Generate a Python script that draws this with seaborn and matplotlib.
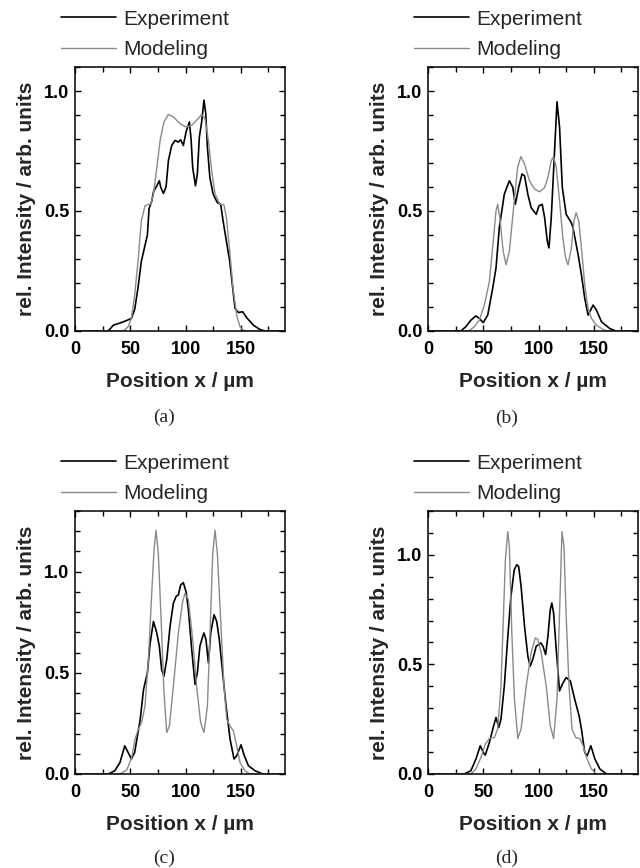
import numpy as np
import pandas as pd
import matplotlib
matplotlib.use("Agg")
import matplotlib.pyplot as plt
import seaborn as sns
from matplotlib.ticker import MultipleLocator

# ---- data (x in um, relative intensity) ----
a_exp_x = [0, 30, 34.7, 43.7, 51, 54, 57, 60, 63, 65.5, 67, 69.4, 71, 74, 76.3, 77.5, 80, 82.4, 84.5,
           87.5, 90.5, 93.5, 95.6, 98, 100.5, 103.5, 105, 106.5, 109, 110.7, 112.5, 114.6, 116.7, 118.3,
           119.8, 122, 125, 128.8, 131.8, 134, 137, 140, 142.7, 144.8, 147.8, 151.7, 155.4, 161.4, 167.4, 172, 190]
a_exp_y = [0, 0, 0.024, 0.038, 0.052, 0.09, 0.18, 0.29, 0.35, 0.40, 0.51, 0.54, 0.58, 0.605, 0.626, 0.60,
           0.573, 0.60, 0.71, 0.773, 0.794, 0.787, 0.797, 0.773, 0.83, 0.871, 0.80, 0.68, 0.605, 0.654, 0.808,
           0.871, 0.962, 0.906, 0.766, 0.64, 0.57, 0.535, 0.528, 0.458, 0.374, 0.29, 0.178, 0.094, 0.077, 0.08,
           0.055, 0.024, 0.006, 0, 0]
a_mod_x = [0, 43.7, 48, 51, 54, 57, 60, 63.3, 66.4, 68.5, 71, 74, 77, 80.5, 84.5, 89, 95, 100.5, 105.6, 110,
           114.6, 117.6, 120.7, 123.7, 126.7, 131.2, 134.8, 137, 140, 143, 146.3, 149.3, 152.3, 156, 190]
a_mod_y = [0, 0, 0.017, 0.052, 0.15, 0.29, 0.458, 0.521, 0.528, 0.528, 0.57, 0.68, 0.794, 0.871, 0.902,
           0.892, 0.864, 0.85, 0.857, 0.878, 0.902, 0.885, 0.794, 0.668, 0.57, 0.528, 0.525, 0.472, 0.332,
           0.178, 0.066, 0.017, 0.003, 0, 0]

b_exp_x = [0, 29.7, 34, 38.8, 43.3, 46.4, 50, 54, 58.5, 61.5, 64.5, 69, 73.6, 76.7, 79, 82, 85, 87.3, 90.3,
           93.3, 97.9, 100.3, 103.3, 105.5, 107.9, 109.4, 111.5, 114.5, 116.7, 119, 121.5, 125, 129.7, 131.2,
           135.8, 138.8, 141.8, 144.8, 149.4, 152.4, 157, 164.5, 170, 190]
b_exp_y = [0, 0, 0.017, 0.045, 0.063, 0.052, 0.035, 0.066, 0.178, 0.262, 0.43, 0.57, 0.626, 0.598, 0.528,
           0.598, 0.654, 0.647, 0.57, 0.514, 0.486, 0.521, 0.528, 0.472, 0.374, 0.346, 0.472, 0.752, 0.955,
           0.85, 0.598, 0.486, 0.451, 0.43, 0.318, 0.234, 0.136, 0.066, 0.108, 0.087, 0.038, 0.01, 0, 0]
b_mod_x = [0, 37, 41.8, 46.4, 51, 55.5, 59, 61.5, 63, 65, 68, 70.6, 73.6, 78, 81, 84, 87.3, 91.8, 96.4, 101,
           105.5, 108.5, 111.5, 113.6, 116, 119, 122, 124.5, 126.7, 129.7, 132, 134, 136.4, 138.8, 141.8,
           144.8, 147.9, 152.4, 158.5, 162, 190]
b_mod_y = [0, 0, 0.017, 0.045, 0.108, 0.206, 0.374, 0.5, 0.528, 0.472, 0.332, 0.276, 0.332, 0.542, 0.68,
           0.727, 0.696, 0.626, 0.591, 0.58, 0.598, 0.64, 0.71, 0.727, 0.682, 0.542, 0.388, 0.304, 0.276,
           0.346, 0.458, 0.493, 0.458, 0.346, 0.192, 0.094, 0.052, 0.024, 0.006, 0, 0]

c_exp_x = [0, 30, 36, 40.7, 45, 48, 51, 54, 59, 62, 65.5, 68, 71, 74, 76.3, 78.4, 80.5, 83, 86, 89, 91.4,
           93.5, 95.6, 98, 100.5, 102.6, 105.6, 108.6, 110.7, 113, 115.5, 116.7, 118.5, 120.7, 122.8, 125.8,
           128.2, 130.6, 133.6, 136.7, 140.3, 143.9, 146.3, 150.2, 153.2, 156.9, 162.9, 170, 190]
c_exp_y = [0, 0, 0.016, 0.057, 0.139, 0.107, 0.074, 0.107, 0.27, 0.418, 0.5, 0.648, 0.754, 0.697, 0.631,
           0.516, 0.484, 0.566, 0.73, 0.844, 0.877, 0.885, 0.934, 0.946, 0.9, 0.811, 0.615, 0.443, 0.5,
           0.631, 0.68, 0.697, 0.664, 0.549, 0.697, 0.787, 0.754, 0.664, 0.5, 0.336, 0.172, 0.074, 0.09,
           0.144, 0.09, 0.041, 0.016, 0, 0]
c_mod_x = [0, 40.7, 46.8, 51.3, 54.3, 57.3, 60.3, 63.3, 66.4, 69.4, 71.5, 73.3, 75.4, 78.4, 80.5, 83, 85.4,
           89, 93.5, 97.4, 99.5, 102.6, 106.5, 110, 113.7, 116.7, 119.8, 122.2, 124.6, 126.7, 128.8, 131.8,
           134.8, 137.3, 140.3, 143.3, 146.3, 149.3, 153.8, 158, 190]
c_mod_y = [0, 0, 0.02, 0.082, 0.172, 0.221, 0.254, 0.336, 0.566, 0.893, 1.107, 1.205, 1.09, 0.697, 0.402,
           0.205, 0.238, 0.434, 0.697, 0.852, 0.893, 0.861, 0.664, 0.434, 0.254, 0.205, 0.336, 0.697, 1.09,
           1.205, 1.09, 0.762, 0.434, 0.27, 0.238, 0.213, 0.139, 0.057, 0.016, 0, 0]

d_exp_x = [0, 32.7, 38.8, 43.3, 47.3, 50, 51.8, 55.5, 59.4, 61.5, 64, 66, 69, 72, 75, 78, 80.3, 82, 84.2,
           87.3, 90.3, 92.4, 94.8, 97.9, 100.3, 102, 104, 106.4, 108.5, 110.6, 112, 113.6, 116, 119, 121.5,
           125, 128.8, 132.7, 136.7, 138.8, 141.8, 144, 147.3, 151, 155.5, 161.5, 190]
d_exp_y = [0, 0, 0.015, 0.068, 0.129, 0.098, 0.086, 0.144, 0.22, 0.258, 0.212, 0.25, 0.4, 0.614, 0.81,
           0.932, 0.955, 0.947, 0.856, 0.674, 0.538, 0.492, 0.523, 0.583, 0.591, 0.598, 0.583, 0.545, 0.629,
           0.75, 0.78, 0.735, 0.568, 0.379, 0.41, 0.44, 0.424, 0.341, 0.265, 0.205, 0.098, 0.083, 0.129,
           0.068, 0.023, 0, 0]
d_mod_x = [0, 38.8, 43.3, 47.9, 51.8, 55.5, 60, 63, 66, 68.2, 70, 72.1, 73.6, 75.8, 78.2, 81.2, 84.2, 88.8,
           93.3, 97, 99.4, 102.4, 107, 110.6, 113.6, 116.7, 119, 121.2, 123, 125, 127.6, 130.3, 133.6, 137.3,
           140.3, 143.3, 147.9, 152.4, 190]
d_mod_y = [0, 0, 0.023, 0.076, 0.136, 0.162, 0.167, 0.205, 0.4, 0.72, 0.977, 1.106, 1.038, 0.644, 0.341,
           0.162, 0.205, 0.4, 0.553, 0.621, 0.614, 0.553, 0.4, 0.22, 0.162, 0.341, 0.735, 1.106, 1.038, 0.72,
           0.4, 0.205, 0.167, 0.162, 0.129, 0.076, 0.023, 0, 0]

panel_names = ["(a)", "(b)", "(c)", "(d)"]
y_max = [1.1, 1.1, 1.3, 1.2]

sns.set_style("ticks")
plt.rcParams["font.family"] = ["Liberation Sans", "DejaVu Sans"]


def panel_frame(ex, ey, mx, my):
    df_e = pd.DataFrame({"x": ex, "y": ey, "series": "Experiment"})
    df_m = pd.DataFrame({"x": mx, "y": my, "series": "Modeling"})
    return pd.concat([df_e, df_m], ignore_index=True)


frames = [
    panel_frame(a_exp_x, a_exp_y, a_mod_x, a_mod_y),
    panel_frame(b_exp_x, b_exp_y, b_mod_x, b_mod_y),
    panel_frame(c_exp_x, c_exp_y, c_mod_x, c_mod_y),
    panel_frame(d_exp_x, d_exp_y, d_mod_x, d_mod_y),
]

fig = plt.figure(figsize=(6.4, 8.68), dpi=100)
positions = [
    [0.1172, 0.6187, 0.3281, 0.3041],
    [0.6688, 0.6187, 0.3281, 0.3041],
    [0.1172, 0.1083, 0.3281, 0.3030],
    [0.6688, 0.1083, 0.3281, 0.3030],
]
caption_xy = [(164, 417), (507, 418), (164, 858), (507, 858)]

for i, df in enumerate(frames):
    ax = fig.add_axes(positions[i])
    sns.lineplot(data=df, x="x", y="y", hue="series", sort=False, estimator=None,
                 palette={"Experiment": "#000000", "Modeling": "#8a8a8a"}, ax=ax, legend=False)
    ax.lines[0].set_linewidth(1.2)
    ax.lines[1].set_linewidth(1.0)
    ax.set_xlim(0, 190)
    ax.set_ylim(0, y_max[i])
    ax.xaxis.set_major_locator(MultipleLocator(50))
    ax.xaxis.set_minor_locator(MultipleLocator(25))
    ax.yaxis.set_major_locator(MultipleLocator(0.5))
    ax.yaxis.set_minor_locator(MultipleLocator(0.1))
    ax.tick_params(which="both", direction="in", top=True, right=True, width=1.0, colors="black")
    ax.tick_params(which="major", length=4, labelsize=13, pad=4)
    ax.tick_params(which="minor", length=3.5)
    ax.tick_params(axis="x", which="major", pad=7)
    for lab in ax.get_xticklabels() + ax.get_yticklabels():
        lab.set_fontweight("bold")
    for sp in ax.spines.values():
        sp.set_linewidth(1.1)
        sp.set_color("black")
    ax.set_xlabel("Position x / µm", fontsize=15, fontweight="bold", labelpad=10)
    ax.set_ylabel("rel. Intensity / arb. units", fontsize=15, fontweight="bold", labelpad=6)
    leg = ax.legend(ax.lines[:2], ["Experiment", "Modeling"], loc="lower left",
                    bbox_to_anchor=(-0.065, 1.03), frameon=False, fontsize=15,
                    borderpad=0, borderaxespad=0, handlelength=2.6, handletextpad=0.35,
                    labelspacing=0.55)
    cx, cy = caption_xy[i]
    fig.text(cx / 640, 1 - cy / 868, panel_names[i], ha="center", va="center",
             fontsize=14, family="Liberation Serif")

fig.savefig("out.png", dpi=100)
